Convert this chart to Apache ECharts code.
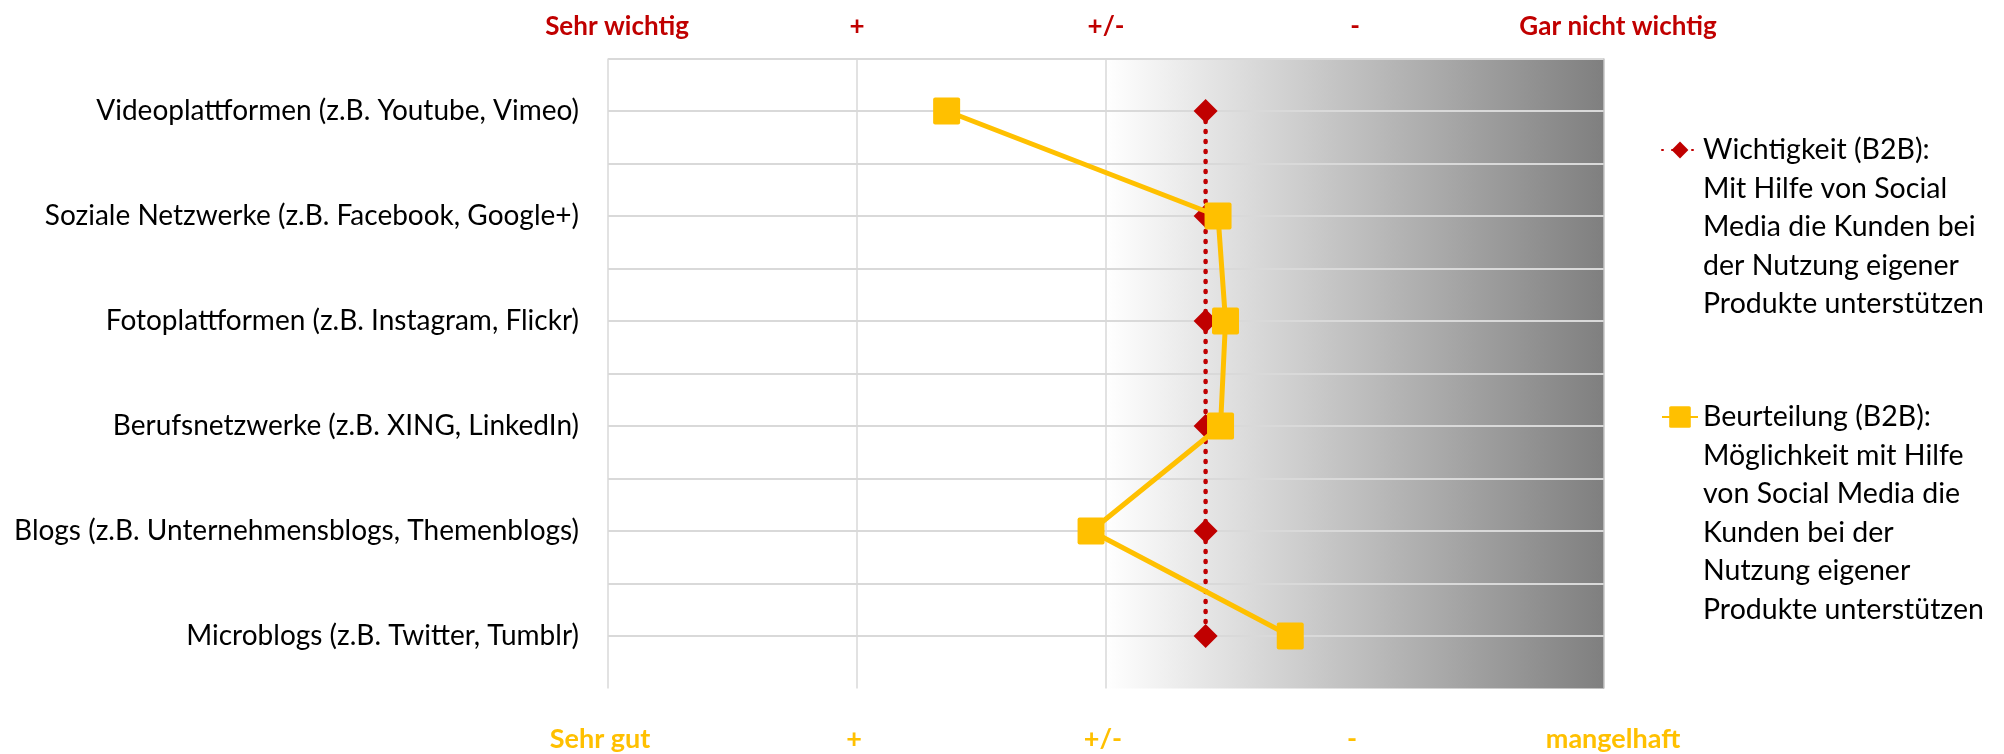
<!DOCTYPE html>
<html>
<head>
<meta charset="utf-8">
<script src="https://cdn.jsdelivr.net/npm/echarts@6/dist/echarts.min.js"></script>
<style>
html,body{margin:0;padding:0;background:#fff;}
#c{width:2004px;height:754px;}
</style>
</head>
<body>
<div id="c"></div>
<script>
// ---- data ----
const categories = [
  'Videoplattformen (z.B. Youtube, Vimeo)',
  'Soziale Netzwerke (z.B. Facebook, Google+)',
  'Fotoplattformen (z.B. Instagram, Flickr)',
  'Berufsnetzwerke (z.B. XING, LinkedIn)',
  'Blogs (z.B. Unternehmensblogs, Themenblogs)',
  'Microblogs (z.B. Twitter, Tumblr)'
];
const wichtigkeit = [3.40, 3.40, 3.40, 3.40, 3.40, 3.40];
const beurteilung = [2.36, 3.45, 3.48, 3.46, 2.94, 3.74];
const topLabels = ['Sehr wichtig', '+', '+/-', '-', 'Gar nicht wichtig'];
const bottomLabels = ['Sehr gut', '+', '+/-', '-', 'mangelhaft'];
const legendLines1 = ['Wichtigkeit (B2B):', 'Mit Hilfe von Social', 'Media die Kunden bei', 'der Nutzung eigener', 'Produkte unterstützen'];
const legendLines2 = ['Beurteilung (B2B):', 'Möglichkeit mit Hilfe', 'von Social Media die', 'Kunden bei der', 'Nutzung eigener', 'Produkte unterstützen'];

const name1 = legendLines1.join(' ');
const name2 = legendLines2.join(' ');
const FONT = 'Lato';
const LH = 38.5;
const RED = '#C00000';
const GOLD = '#FFC000';
const GRID = '#d9d9d9';

const chart = echarts.init(document.getElementById('c'), null, {renderer: 'canvas'});

// leading blank lines keep the first text line level with the legend icon
function legendFmt(name) {
  const lines = name === name1 ? legendLines1 : legendLines2;
  const pad = [];
  for (let k = 0; k < lines.length - 1; k++) pad.push(' ');
  return pad.concat(lines).join('\n');
}

const squarePath = 'path://M2,0 L25,0 Q27,0 27,2 L27,25 Q27,27 25,27 L2,27 Q0,27 0,25 L0,2 Q0,0 2,0 Z';

const option = {
  animation: false,
  backgroundColor: '#ffffff',
  textStyle: {fontFamily: FONT},
  grid: {left: 608, right: 400, top: 58.5, bottom: 65.5, containLabel: false},
  legend: [
    {
      data: [name1], orient: 'vertical', left: 1661, top: 150 - (9 * LH) / 2,
      padding: 0, itemWidth: 36, itemHeight: 21, selectedMode: false,
      formatter: legendFmt,
      textStyle: {fontFamily: FONT, fontSize: 28.5, color: '#000', lineHeight: LH}
    },
    {
      data: [name2], orient: 'vertical', left: 1661, top: 417 - (11 * LH) / 2,
      padding: 0, itemWidth: 36, itemHeight: 27, selectedMode: false,
      formatter: legendFmt,
      textStyle: {fontFamily: FONT, fontSize: 28.5, color: '#000', lineHeight: LH}
    }
  ],
  xAxis: [
    {
      type: 'value', position: 'top', min: 1, max: 5, interval: 1, z: 1.5,
      axisLine: {show: false}, axisTick: {show: false},
      splitLine: {show: true, lineStyle: {width: 1.5, color: [GRID, GRID, GRID, 'rgba(0,0,0,0)', '#c4c4c4']}},
      axisLabel: {
        margin: 19, fontFamily: FONT, fontSize: 26, fontWeight: 'bold', color: RED,
        formatter: function (v) {
          const i = Math.round(v) - 1;
          if (i === 0) return '{a|' + topLabels[i] + '}';
          if (i === topLabels.length - 1) return '{b|' + topLabels[i] + '}';
          return topLabels[i];
        },
        rich: {a: {padding: [0, 0, 0, 18]}, b: {padding: [0, 0, 0, 28]}}
      }
    },
    {
      type: 'value', position: 'bottom', min: 1, max: 5, interval: 1, z: 1.5,
      axisLine: {show: false}, axisTick: {show: false}, splitLine: {show: false},
      axisLabel: {
        margin: 37, fontFamily: FONT, fontSize: 27, fontWeight: 'bold', color: GOLD,
        formatter: function (v) {
          const i = Math.round(v) - 1;
          if (i === 0) return '{a|' + bottomLabels[i] + '}';
          if (i === bottomLabels.length - 1) return '{b|' + bottomLabels[i] + '}';
          return '{c|' + bottomLabels[i] + '}';
        },
        rich: {a: {padding: [0, 16, 0, 0]}, b: {padding: [0, 0, 0, 18]}, c: {padding: [0, 6, 0, 0]}}
      }
    }
  ],
  yAxis: [
    {
      type: 'category', data: categories, inverse: true, boundaryGap: true, z: 1.5,
      axisLine: {show: false}, axisTick: {show: false}, splitLine: {show: false},
      axisLabel: {margin: 29, fontFamily: FONT, fontSize: 28, color: '#000'}
    },
    {
      type: 'value', min: 0, max: categories.length * 2, interval: 1, position: 'right', z: 1.5,
      axisLine: {show: false}, axisTick: {show: false}, axisLabel: {show: false},
      splitLine: {show: true, showMinLine: false, lineStyle: {width: 2, color: GRID}}
    }
  ],
  series: [
    {
      type: 'line', name: '_bg', data: [], xAxisIndex: 0, yAxisIndex: 1, z: 1, silent: true,
      markArea: {
        silent: true, z: 1,
        itemStyle: {
          opacity: 1,
          color: new echarts.graphic.LinearGradient(0, 0, 1, 0, [
            {offset: 0, color: '#ffffff'}, {offset: 1, color: '#7f7f7f'}
          ])
        },
        data: [[{xAxis: 3}, {xAxis: 5}]]
      }
    },
    {
      type: 'line', name: name1, data: wichtigkeit.map((v, i) => [v, categories[i]]),
      xAxisIndex: 0, yAxisIndex: 0, z: 3,
      symbol: 'diamond', symbolSize: 24,
      itemStyle: {color: RED},
      lineStyle: {color: RED, width: 4.5, type: [1, 9], cap: 'round'}
    },
    {
      type: 'line', name: name2, data: beurteilung.map((v, i) => [v, categories[i]]),
      xAxisIndex: 1, yAxisIndex: 0, z: 4,
      symbol: squarePath, symbolSize: 27,
      itemStyle: {color: GOLD},
      lineStyle: {color: GOLD, width: 5}
    }
  ]
};
chart.setOption(option);
</script>
</body>
</html>
